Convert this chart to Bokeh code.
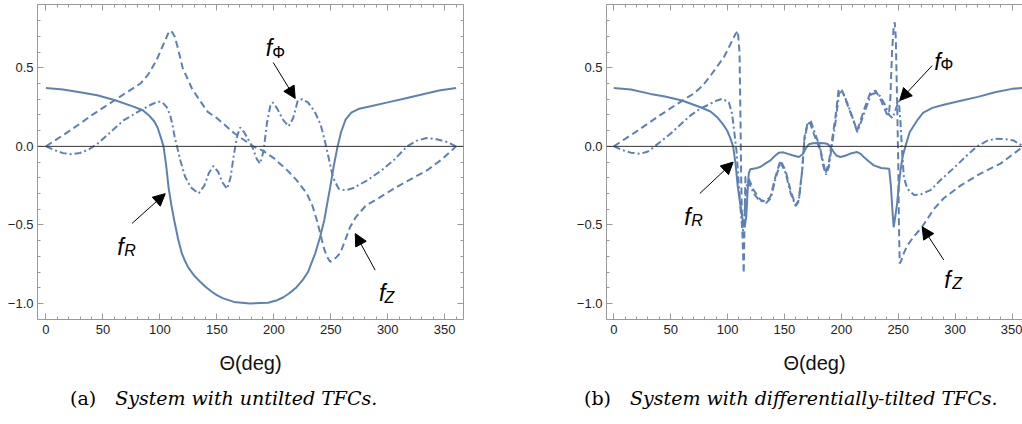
from bokeh.plotting import figure
from bokeh.layouts import row, column
from bokeh.models import (Range1d, LinearAxis, SingleIntervalTicker, Span, Label,
                          Arrow, NormalHead, Div)
from bokeh.embed import file_html
from bokeh.resources import INLINE

# ---------------- data: panel (a) untilted ----------------
theta_R_a = [0, 15, 30, 45, 60, 75, 85, 90, 95, 98, 100, 102, 103.2, 105.5, 107.6, 110, 112.6,
             116, 119.3, 122, 125, 130, 135.4, 140, 145, 150, 155, 165, 179, 195, 203, 208, 213,
             217, 220, 225.6, 230, 236.3, 240.5, 244.3, 247, 249.5, 252.5, 256, 259, 263, 268,
             275, 285, 300, 315, 330, 345, 360]
fR_a = [0.372, 0.362, 0.345, 0.325, 0.295, 0.258, 0.230, 0.200, 0.160, 0.120, 0.075, 0.030,
        0.000, -0.120, -0.259, -0.370, -0.470, -0.590, -0.682, -0.728, -0.772, -0.822, -0.862,
        -0.893, -0.922, -0.947, -0.966, -0.990, -1.000, -0.995, -0.979, -0.962, -0.938,
        -0.915, -0.896, -0.848, -0.800, -0.682, -0.580, -0.470, -0.360, -0.259, -0.130, 0.000,
        0.090, 0.170, 0.215, 0.240, 0.255, 0.280, 0.305, 0.330, 0.355, 0.372]

theta_Z_a = [0, 10, 20, 30, 40, 50, 60, 70, 83, 90, 97, 101, 104.7, 107, 109, 111, 113, 116,
             120, 123.7, 128, 135, 142, 150, 158, 165, 172, 182, 191, 200, 211.5, 220, 229, 234,
             237.8, 241, 243.6, 246.5, 249.5, 252, 255, 258.3, 262, 267, 272, 281, 292, 305,
             320, 335, 348, 360]
fZ_a = [0, 0.048, 0.095, 0.145, 0.197, 0.245, 0.292, 0.340, 0.400, 0.460, 0.547, 0.615, 0.674,
        0.715, 0.737, 0.725, 0.700, 0.620, 0.500, 0.440, 0.370, 0.292, 0.220, 0.180, 0.130,
        0.085, 0.050, 0.000, -0.030, -0.075, -0.150, -0.215, -0.300, -0.380, -0.470, -0.560,
        -0.640, -0.700, -0.735, -0.725, -0.705, -0.680, -0.610, -0.513, -0.450, -0.375,
        -0.330, -0.270, -0.210, -0.150, -0.080, 0.0]

theta_P_a = [0, 8, 15, 23, 30, 38, 45, 55, 68, 83, 92, 98, 102, 106, 109, 111, 113, 115, 118,
             122, 127, 134, 139, 143, 147, 151, 155, 159, 162, 165, 168, 170.5, 174, 177, 181,
             185, 188, 191, 194, 197, 199, 203, 208, 213, 217, 221, 225, 230, 236, 241, 245,
             248, 252, 257, 263, 270, 282, 295, 305, 317, 325, 334, 343, 352, 360]
fP_a = [0, -0.025, -0.043, -0.050, -0.042, -0.018, 0.015, 0.080, 0.165, 0.229, 0.265, 0.285,
        0.282, 0.250, 0.200, 0.140, 0.060, 0.000, -0.090, -0.190, -0.260, -0.300, -0.250,
        -0.170, -0.125, -0.160, -0.230, -0.270, -0.200, -0.050, 0.070, 0.120, 0.090, 0.050,
        0.000, -0.080, -0.110, -0.030, 0.150, 0.260, 0.280, 0.240, 0.170, 0.127, 0.180, 0.290,
        0.300, 0.280, 0.220, 0.140, 0.030, -0.068, -0.200, -0.270, -0.280, -0.265, -0.216,
        -0.150, -0.090, 0.000, 0.035, 0.053, 0.045, 0.028, 0.000]

# ---------------- data: panel (b) differentially tilted ----------------
theta_R_b = [0, 15, 32.3, 45, 60, 76.2, 85, 90.9, 96, 99.6, 102, 104.9, 107, 109, 111, 112.8,
             115, 116.5, 117.5, 118.6, 120, 125, 129, 133, 137.7, 141, 145, 149, 152.4, 157,
             162.6, 166, 169, 171.4, 175, 180, 185, 188, 191, 193.3, 196, 199.2, 204, 208,
             213.9, 217, 219.7, 224, 228.5, 235, 242, 243.5, 245, 246, 247.5, 249, 250.5, 252,
             254, 256.3, 260, 266.6, 272, 280, 290, 305, 320, 335, 350, 360]
fR_b = [0.372, 0.362, 0.334, 0.318, 0.292, 0.249, 0.222, 0.186, 0.140, 0.101, 0.060, 0.000,
        -0.110, -0.258, -0.360, -0.449, -0.515, -0.440, -0.300, -0.173, -0.145, -0.140, -0.130,
        -0.110, -0.089, -0.065, -0.040, -0.038, -0.046, -0.057, -0.068, -0.050, -0.010, 0.013,
        0.020, 0.021, 0.020, 0.015, -0.010, -0.036, -0.060, -0.068, -0.058, -0.046, -0.036,
        -0.048, -0.068, -0.095, -0.121, -0.138, -0.142, -0.250, -0.420, -0.515, -0.440, -0.364,
        -0.250, -0.152, -0.060, 0.000, 0.090, 0.165, 0.215, 0.245, 0.265, 0.290, 0.315, 0.345,
        0.366, 0.372]

theta_Z_b = [0, 10, 20, 30, 40, 50, 60, 70, 78, 85, 91, 96.7, 100.5, 104, 107, 109, 110.5,
             111.3, 112, 113, 114.2, 115, 115.7, 117.5, 120, 123, 128.9, 133.3, 137.7, 142,
             146.5, 150.9, 155.3, 159.7, 162.6, 165.6, 167.6, 170, 172, 175.8, 181.6, 184, 186,
             188.9, 192, 194.8, 197.7, 200.7, 205.1, 209.5, 213.9, 219.7, 225.6, 230, 234.4,
             237.3, 240, 241.7, 243, 244.6, 246, 246.9, 247.8, 249, 250, 250.6, 251.3, 252.8,
             254.8, 258, 263.6, 271, 281.2, 290, 304.7, 322.2, 339.8, 351.5, 360]
fZ_b = [0, 0.048, 0.095, 0.145, 0.195, 0.243, 0.290, 0.335, 0.385, 0.450, 0.510, 0.567, 0.620,
        0.673, 0.715, 0.736, 0.600, 0.200, -0.216, -0.550, -0.808, -0.450, -0.195, -0.190,
        -0.230, -0.279, -0.340, -0.353, -0.320, -0.195, -0.089, -0.152, -0.279, -0.374, -0.343,
        -0.152, 0.059, 0.140, 0.160, 0.080, -0.025, -0.120, -0.173, -0.110, 0.050, 0.186,
        0.366, 0.355, 0.271, 0.186, 0.100, 0.228, 0.345, 0.355, 0.300, 0.250, 0.205, 0.200,
        0.300, 0.610, 0.760, 0.790, 0.700, 0.290, -0.100, -0.500, -0.745, -0.725, -0.681,
        -0.630, -0.575, -0.512, -0.400, -0.330, -0.250, -0.173, -0.110, -0.046, 0.0]

theta_P_b = [0, 8, 15, 23.4, 30, 36, 42, 49.8, 58, 67.4, 76, 85, 90, 95.3, 101.1, 104, 106.1,
             107.8, 109.5, 111, 112.3, 113.5, 114.7, 116, 117.5, 120, 123, 128, 134, 138, 142,
             146.5, 151, 155.5, 160, 162.5, 165.5, 167.5, 170, 173, 176, 181, 184, 186.5, 189,
             192, 195, 198, 201, 205, 209.5, 214, 220, 226, 230, 234, 238, 242, 245, 248, 250.5,
             252, 253.5, 255, 258, 264, 270, 278.3, 287, 300, 310, 319.3, 328, 335.4, 345,
             351.2, 360]
fP_b = [0, -0.025, -0.040, -0.047, -0.033, 0.000, 0.035, 0.080, 0.135, 0.197, 0.240, 0.271,
        0.290, 0.303, 0.281, 0.207, 0.080, -0.025, -0.200, -0.360, -0.480, -0.540, -0.470,
        -0.300, -0.220, -0.250, -0.300, -0.345, -0.360, -0.330, -0.210, -0.100, -0.170, -0.300,
        -0.380, -0.350, -0.160, 0.040, 0.130, 0.165, 0.100, 0.000, -0.100, -0.180, -0.130,
        0.020, 0.160, 0.340, 0.350, 0.280, 0.190, 0.090, 0.210, 0.330, 0.340, 0.320, 0.270,
        0.200, 0.180, 0.240, 0.290, 0.150, -0.050, -0.200, -0.270, -0.310, -0.305, -0.279,
        -0.216, -0.130, -0.060, 0.000, 0.035, 0.049, 0.045, 0.038, 0.000]

y_tick_labels = {0.5: "0.5", 0: "0.0", -0.5: "\u22120.5", -1: "\u22121.0"}
x_axis_title = "\u0398(deg)"
captions = [("(a)", "System with untilted TFCs."),
            ("(b)", "System with differentially-tilted TFCs.")]

BLUE = "#5E81B5"
FRAME = "#9a9a9a"
SANS = "Liberation Sans"
SERIF = "DejaVu Serif"
FIG_H = 384


def style_axis(ax, show_labels):
    ax.axis_line_color = FRAME
    ax.axis_line_width = 1
    ax.major_tick_line_color = FRAME
    ax.minor_tick_line_color = FRAME
    ax.major_tick_in = 6
    ax.major_tick_out = 0
    ax.minor_tick_in = 3
    ax.minor_tick_out = 0
    ax.major_label_text_font = SANS
    if show_labels:
        ax.major_label_text_font_size = "13px"
        ax.major_label_text_color = "#222222"
    else:
        ax.major_label_text_font_size = "1px"
        ax.major_label_text_color = None
        ax.major_label_standoff = 0


def make_panel(width, x_start, x_end, min_left, min_right, right_axis,
               data, arrows, flabels):
    p = figure(width=width, height=FIG_H, output_backend="svg", toolbar_location=None,
               x_range=Range1d(x_start, x_end), y_range=Range1d(-1.102, 0.903),
               min_border_left=min_left, min_border_right=min_right,
               min_border_top=4, min_border_bottom=FIG_H - 319,
               x_axis_location=None, y_axis_location=None)
    p.outline_line_color = None
    p.xgrid.grid_line_color = None
    p.ygrid.grid_line_color = None
    p.background_fill_color = "white"
    p.border_fill_color = "white"

    def xt():
        return SingleIntervalTicker(interval=50, num_minor_ticks=5)

    def yt():
        return SingleIntervalTicker(interval=0.5, num_minor_ticks=5)

    bottom = LinearAxis(ticker=xt())
    style_axis(bottom, True)
    bottom.major_label_standoff = 5
    bottom.axis_label = x_axis_title
    bottom.axis_label_text_font = SANS
    bottom.axis_label_text_font_size = "20px"
    bottom.axis_label_text_font_style = "normal"
    bottom.axis_label_text_color = "#111111"
    bottom.axis_label_standoff = 15
    p.add_layout(bottom, "below")

    left = LinearAxis(ticker=yt())
    style_axis(left, True)
    left.major_label_standoff = 4
    left.major_label_overrides = y_tick_labels
    p.add_layout(left, "left")

    top = LinearAxis(ticker=xt())
    style_axis(top, False)
    p.add_layout(top, "above")

    if right_axis:
        right = LinearAxis(ticker=yt())
        style_axis(right, False)
        p.add_layout(right, "right")

    p.add_layout(Span(location=0, dimension="width", line_color="#333333", line_width=1))

    (tR, fR), (tZ, fZ), (tP, fP) = data
    p.line(tR, fR, line_color=BLUE, line_width=2)
    p.line(tZ, fZ, line_color=BLUE, line_width=2, line_dash="7 4")
    p.line(tP, fP, line_color=BLUE, line_width=2, line_dash="7 3 2 3")

    for (x0, y0, x1, y1) in arrows:
        p.add_layout(Arrow(x_start=x0, y_start=y0, x_end=x1, y_end=y1,
                           line_color="black", line_width=1,
                           end=NormalHead(size=12, fill_color="black", line_color="black")))

    for (fx, fy, sub, sx, sy, sub_style) in flabels:
        p.add_layout(Label(x=fx, y=fy, text="f", text_font=SANS, text_font_size="23px",
                           text_font_style="italic", text_color="black",
                           text_baseline="alphabetic", text_align="left"))
        p.add_layout(Label(x=sx, y=sy, text=sub, text_font=SANS, text_font_size="16px",
                           text_font_style=sub_style, text_color="black",
                           text_baseline="alphabetic", text_align="left"))
    return p


def make_caption(width, caption, left_px, gap_px):
    tag, text = caption
    html = ('<div style="font-family:\'DejaVu Serif\',serif;font-size:19px;line-height:22px;'
            'padding-top:3px;color:#000;white-space:nowrap;padding-left:%dpx">'
            '<span>%s</span><span style="font-style:italic;margin-left:%dpx">%s</span></div>'
            % (left_px, tag, gap_px, text))
    return Div(text=html, width=width, height=424 - FIG_H, margin=0)


p1 = make_panel(
    540, -7.4, 366.5, 37, 77, True,
    [(theta_R_a, fR_a), (theta_Z_a, fZ_a), (theta_P_a, fP_a)],
    [(199.5, 0.534, 218.8, 0.305), (75.5, -0.491, 104.7, -0.301), (289, -0.788, 271.5, -0.555)],
    [(193.0, 0.623, "\u03a6", 198.6, 0.596, "normal"),
     (62.7, -0.640, "R", 68.7, -0.664, "italic"),
     (292.4, -0.936, "Z", 297.2, -0.961, "italic")])

p2 = make_panel(
    482, -6.4, 359.2, 66, 0, False,
    [(theta_R_b, fR_b), (theta_Z_b, fZ_b), (theta_P_b, fP_b)],
    [(279.8, 0.514, 251.3, 0.292), (75.6, -0.30, 104.9, -0.10), (290, -0.723, 271, -0.512)],
    [(281.7, 0.535, "\u03a6", 287.1, 0.522, "normal"),
     (62.0, -0.449, "R", 68.0, -0.473, "italic"),
     (290.5, -0.850, "Z", 297.4, -0.874, "italic")])

c1 = make_caption(540, captions[0], 70, 19)
c2 = make_caption(482, captions[1], 44, 19)

layout = row(column(p1, c1), column(p2, c2))
open("out.html", "w").write(file_html(layout, INLINE))
